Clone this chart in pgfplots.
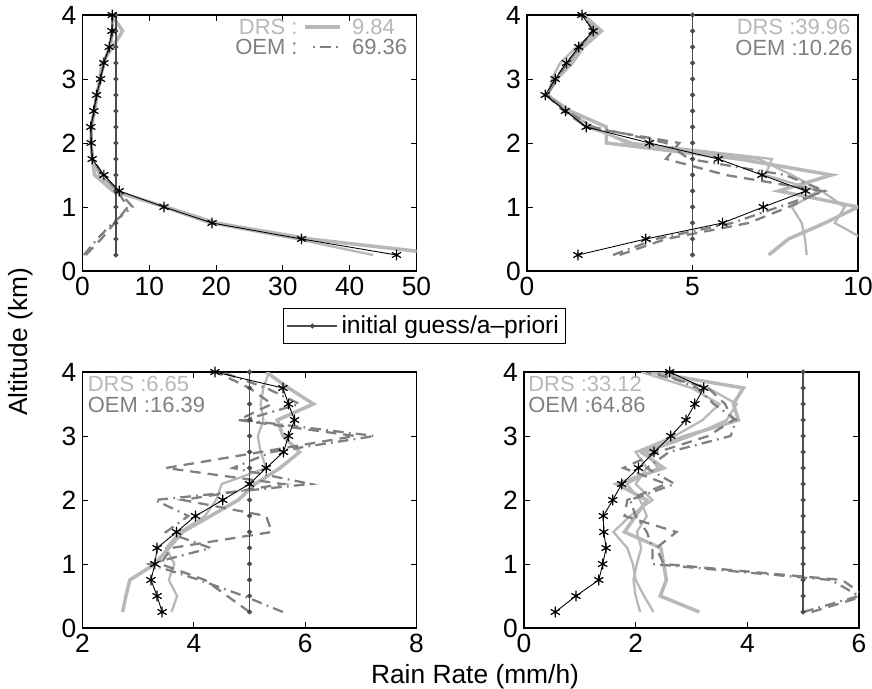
\documentclass[border=0pt]{standalone}
\usepackage{fontspec}
\setmainfont{Liberation Sans}
\usepackage{pgfplots}
\pgfplotsset{compat=1.18}

\definecolor{drsgray}{gray}{0.72}
\definecolor{oemgray}{gray}{0.5}
\definecolor{aprgray}{gray}{0.3}
\newcommand\fs{\fontsize{15}{18}\selectfont}
\newcommand\fa{\fontsize{12.5}{15}\selectfont}

\pgfplotsset{
  panel/.style={
    scale only axis, width=6.68cm, height=5.12cm,
    ymin=0, ymax=4, ytick={0,1,2,3,4},
    tick align=inside, major tick length=0.12cm,
    tick label style={font=\fs},
    /pgf/number format/assume math mode=true,
    axis line style={line width=0.6pt},
    every tick/.style={black, line width=0.5pt},
    anchor=south west,
  },
  sdrs/.style={drsgray, line width=1.3pt, no marks, forget plot},
  sdrsthick/.style={drsgray, line width=2pt, no marks, forget plot},
  soemd/.style={oemgray, line width=1.3pt, dash pattern=on 6pt off 4pt, no marks, forget plot},
  soemdd/.style={oemgray, line width=1.3pt, dash pattern=on 6pt off 3pt on 1pt off 3pt, no marks, forget plot},
  struth/.style={black, line width=0.5pt, mark=asterisk, mark size=3pt, mark options={line width=0.7pt}, forget plot},
  sapr/.style={aprgray, line width=0.8pt, mark=*, mark size=1pt},
}

\begin{document}
\begin{tikzpicture}
\path[use as bounding box] (0,0) rectangle (17.44,13.78);

% top left
\begin{axis}[panel, at={(1.65cm,8.36cm)}, xmin=0, xmax=50, xtick={0,10,20,30,40,50},
  legend style={at={(1.024,-0.215)}, anchor=center, font=\fontsize{14}{16}\selectfont,
    draw=black, line width=0.6pt, inner sep=2pt},
  legend image code/.code={\draw[mark repeat=2,mark phase=2] plot coordinates {(0cm,0cm) (0.5cm,0cm) (1cm,0cm)};}]
\addplot[sdrsthick] coordinates {(55,0.25)(34,0.5)(20,0.75)(12.5,1.0)(4.6,1.25)(1.8,1.5)(1.5,1.75)(1.3,2.0)(1.3,2.25)(1.8,2.5)(2.2,2.75)(2.6,3.0)(2.9,3.25)(4.5,3.5)(6.0,3.75)(4.4,4.0)};
\addplot[sdrs] coordinates {(43.5,0.25)(32,0.5)(19,0.75)(12,1.0)(5.3,1.25)(2.5,1.5)(1.5,1.75)(1.3,2.0)(1.4,2.25)(1.6,2.5)(2.2,2.75)(2.8,3.0)(3.1,3.25)(4.2,3.5)(4.6,3.75)(4.4,4.0)};
\addplot[soemdd] coordinates {(0.2,0.25)(2.2,0.5)(4.5,0.75)(7.5,1.0)(5.4,1.25)(3.0,1.5)(1.5,1.75)(1.3,2.0)(1.3,2.25)(1.7,2.5)(2.1,2.75)(2.7,3.0)(3.2,3.25)(4.0,3.5)(4.5,3.75)(4.5,4.0)};
\addplot[soemd] coordinates {(0.5,0.25)(2.8,0.5)(4.8,0.75)(6.8,1.0)(5.2,1.25)(3.1,1.5)(1.5,1.75)(1.3,2.0)(1.3,2.25)(1.7,2.5)(2.1,2.75)(2.7,3.0)(3.2,3.25)(4.0,3.5)(4.4,3.75)(4.5,4.0)};
\addplot[sapr] coordinates {(5,0.25)(5,0.5)(5,0.75)(5,1.0)(5,1.25)(5,1.5)(5,1.75)(5,2.0)(5,2.25)(5,2.5)(5,2.75)(5,3.0)(5,3.25)(5,3.5)(5,3.75)(5,4.0)};
\addlegendentry{initial guess/a\textendash priori}
\addplot[struth] coordinates {(47.0,0.25)(32.8,0.5)(19.4,0.75)(12.2,1.0)(5.5,1.25)(3.2,1.5)(1.45,1.75)(1.3,2.0)(1.25,2.25)(1.7,2.5)(2.1,2.75)(2.7,3.0)(3.2,3.25)(4.0,3.5)(4.4,3.75)(4.45,4.0)};
\node[anchor=east, text=drsgray, font=\fa, inner sep=0pt] at (rel axis cs:0.645,0.954) {DRS :};
\node[anchor=east, text=oemgray, font=\fa, inner sep=0pt] at (rel axis cs:0.645,0.874) {OEM :};
\draw[drsgray, line width=2pt] (rel axis cs:0.666,0.954) -- (rel axis cs:0.77,0.954);
\draw[oemgray, line width=1.3pt, dash pattern=on 1pt off 3pt on 6pt off 3pt] (rel axis cs:0.69,0.874) -- (rel axis cs:0.77,0.874);
\node[anchor=west, text=drsgray, font=\fa, inner sep=0pt] at (rel axis cs:0.806,0.954) {9.84};
\node[anchor=west, text=oemgray, font=\fa, inner sep=0pt] at (rel axis cs:0.806,0.874) {69.36};
\end{axis}

% top right
\begin{axis}[panel, at={(10.54cm,8.36cm)}, width=6.62cm, xmin=0, xmax=10, xtick={0,5,10}]
\addplot[sdrsthick] coordinates {(7.3,0.25)(7.9,0.5)(9.0,0.75)(10.0,1.0)(7.6,1.25)(9.2,1.5)(6.4,1.75)(2.4,2.0)(2.4,2.25)(1.3,2.5)(0.6,2.75)(0.9,3.0)(1.36,3.25)(1.7,3.5)(2.25,3.75)(1.7,4.0)};
\addplot[sdrs] coordinates {(8.45,0.25)(8.4,0.5)(8.3,0.75)(8.0,1.0)(8.8,1.25)(7.2,1.5)(7.4,1.75)(3.2,2.0)(1.8,2.25)(1.2,2.5)(0.65,2.75)(0.75,3.0)(1.0,3.25)(1.5,3.5)(2.1,3.75)(1.7,4.0)};
\addplot[sdrs] coordinates {(10.5,0.25)(10.0,0.55)(9.3,0.75)(9.6,1.0)(8.9,1.25)(8.0,1.5)(7.0,1.75)(3.0,2.0)(2.0,2.25)(1.2,2.5)(0.6,2.75)(0.9,3.0)(1.3,3.25)(1.6,3.5)(2.1,3.75)(1.7,4.0)};
\addplot[soemd] coordinates {(2.8,0.25)(4.2,0.5)(6.7,0.75)(7.9,1.0)(8.9,1.25)(6.0,1.5)(4.2,1.75)(4.6,2.0)(1.8,2.25)(1.1,2.5)(0.6,2.75)(0.85,3.0)(1.2,3.25)(1.6,3.5)(2.0,3.75)(1.7,4.0)};
\addplot[soemdd] coordinates {(2.6,0.25)(3.9,0.5)(6.2,0.75)(7.6,1.0)(9.0,1.25)(7.8,1.5)(4.9,1.75)(4.2,2.0)(2.0,2.25)(1.2,2.5)(0.6,2.75)(0.9,3.0)(1.2,3.25)(1.6,3.5)(2.0,3.75)(1.7,4.0)};
\addplot[sapr, forget plot] coordinates {(5,0.25)(5,0.5)(5,0.75)(5,1.0)(5,1.25)(5,1.5)(5,1.75)(5,2.0)(5,2.25)(5,2.5)(5,2.75)(5,3.0)(5,3.25)(5,3.5)(5,3.75)(5,4.0)};
\addplot[struth] coordinates {(1.54,0.25)(3.59,0.5)(5.91,0.75)(7.14,1.0)(8.42,1.25)(7.1,1.5)(5.78,1.75)(3.70,2.0)(1.79,2.25)(1.16,2.5)(0.55,2.75)(0.85,3.0)(1.19,3.25)(1.56,3.5)(2.0,3.75)(1.66,4.0)};
\node[anchor=east, text=drsgray, font=\fa, inner sep=0pt] at (rel axis cs:0.978,0.953) {DRS :39.96};
\node[anchor=east, text=oemgray, font=\fa, inner sep=0pt] at (rel axis cs:0.985,0.873) {OEM :10.26};
\end{axis}

% bottom left
\begin{axis}[panel, at={(1.65cm,1.22cm)}, xmin=2, xmax=8, xtick={2,4,6,8}]
\addplot[sdrsthick] coordinates {(2.72,0.25)(2.78,0.5)(2.85,0.75)(3.3,1.0)(3.55,1.25)(3.8,1.5)(4.3,1.75)(4.8,2.0)(5.1,2.25)(5.55,2.5)(5.9,2.75)(5.6,3.0)(5.5,3.25)(6.15,3.5)(5.7,3.75)(5.3,4.0)};
\addplot[sdrs] coordinates {(3.6,0.25)(3.7,0.5)(3.55,0.75)(3.65,1.0)(3.5,1.25)(3.75,1.5)(4.2,1.75)(4.4,2.0)(4.5,2.25)(5.3,2.5)(5.2,2.75)(5.15,3.0)(5.25,3.25)(5.2,3.5)(5.25,3.75)(5.35,4.0)};
\addplot[soemd] coordinates {(5.0,0.25)(4.6,0.5)(4.2,0.75)(3.4,1.0)(3.6,1.25)(5.4,1.5)(5.3,1.75)(3.8,2.0)(5.6,2.25)(3.5,2.5)(5.2,2.75)(6.9,3.0)(4.8,3.25)(5.4,3.5)(5.0,3.75)(4.4,4.0)};
\addplot[soemdd] coordinates {(5.6,0.25)(4.9,0.5)(4.1,0.75)(3.2,1.0)(4.3,1.25)(3.5,1.5)(3.9,1.75)(3.3,2.0)(6.1,2.25)(4.7,2.5)(5.4,2.75)(7.25,3.0)(4.9,3.25)(5.9,3.5)(5.3,3.75)(4.5,4.0)};
\addplot[sapr, forget plot] coordinates {(5,0.25)(5,0.5)(5,0.75)(5,1.0)(5,1.25)(5,1.5)(5,1.75)(5,2.0)(5,2.25)(5,2.5)(5,2.75)(5,3.0)(5,3.25)(5,3.5)(5,3.75)(5,4.0)};
\addplot[struth] coordinates {(3.43,0.25)(3.34,0.5)(3.23,0.75)(3.30,1.0)(3.34,1.25)(3.69,1.5)(4.03,1.75)(4.52,2.0)(5.00,2.25)(5.30,2.5)(5.61,2.75)(5.70,3.0)(5.81,3.25)(5.70,3.5)(5.60,3.75)(4.38,4.0)};
\node[anchor=west, text=drsgray, font=\fa, inner sep=0pt] at (rel axis cs:0.015,0.955) {DRS :6.65};
\node[anchor=west, text=oemgray, font=\fa, inner sep=0pt] at (rel axis cs:0.015,0.873) {OEM :16.39};
\end{axis}

% bottom right
\begin{axis}[panel, at={(10.48cm,1.22cm)}, width=6.7cm, xmin=0, xmax=6, xtick={0,2,4,6}]
\addplot[sdrsthick] coordinates {(3.14,0.25)(2.44,0.5)(2.55,0.75)(2.5,1.0)(2.45,1.25)(1.8,1.5)(2.0,1.75)(2.2,2.0)(1.66,2.25)(2.5,2.5)(2.1,2.75)(2.9,3.0)(3.84,3.25)(3.75,3.5)(3.93,3.75)(2.26,4.0)};
\addplot[sdrs] coordinates {(2.08,0.25)(2.0,0.5)(1.96,0.75)(2.02,1.0)(2.1,1.25)(2.02,1.5)(2.2,1.75)(2.08,2.0)(1.84,2.25)(2.4,2.5)(2.2,2.75)(3.0,3.0)(3.63,3.25)(3.81,3.5)(3.3,3.75)(2.4,4.0)};
\addplot[sdrs] coordinates {(2.32,0.25)(2.15,0.5)(2.0,0.75)(1.95,1.0)(1.85,1.25)(1.6,1.5)(1.9,1.75)(2.3,2.0)(2.0,2.25)(2.2,2.5)(2.0,2.75)(2.7,3.0)(3.2,3.25)(3.5,3.5)(3.0,3.75)(2.1,4.0)};
\addplot[soemd] coordinates {(5.15,0.25)(6.1,0.5)(5.7,0.75)(2.5,1.0)(2.37,1.25)(2.73,1.5)(1.8,1.75)(1.85,2.0)(2.55,2.25)(1.78,2.5)(2.4,2.75)(3.3,3.0)(3.75,3.25)(3.6,3.5)(3.3,3.75)(2.2,4.0)};
\addplot[soemdd] coordinates {(5.0,0.25)(6.0,0.5)(5.5,0.75)(2.3,1.0)(2.3,1.25)(2.2,1.5)(2.0,1.75)(1.9,2.0)(2.7,2.25)(2.2,2.5)(2.6,2.75)(3.7,3.0)(3.8,3.25)(3.4,3.5)(3.1,3.75)(2.4,4.0)};
\addplot[sapr, forget plot] coordinates {(5,0.25)(5,0.5)(5,0.75)(5,1.0)(5,1.25)(5,1.5)(5,1.75)(5,2.0)(5,2.25)(5,2.5)(5,2.75)(5,3.0)(5,3.25)(5,3.5)(5,3.75)(5,4.0)};
\addplot[struth] coordinates {(0.56,0.25)(0.93,0.5)(1.34,0.75)(1.41,1.0)(1.47,1.25)(1.43,1.5)(1.42,1.75)(1.59,2.0)(1.75,2.25)(2.05,2.5)(2.33,2.75)(2.63,3.0)(2.90,3.25)(3.06,3.5)(3.22,3.75)(2.61,4.0)};
\node[anchor=west, text=drsgray, font=\fa, inner sep=0pt] at (rel axis cs:0.012,0.955) {DRS :33.12};
\node[anchor=west, text=oemgray, font=\fa, inner sep=0pt] at (rel axis cs:0.012,0.873) {OEM :64.86};
\end{axis}

\node[rotate=90, font=\fs] at (0.42,6.94) {Altitude (km)};
\node[font=\fs] at (9.5,0.25) {Rain Rate (mm/h)};
\end{tikzpicture}
\end{document}
